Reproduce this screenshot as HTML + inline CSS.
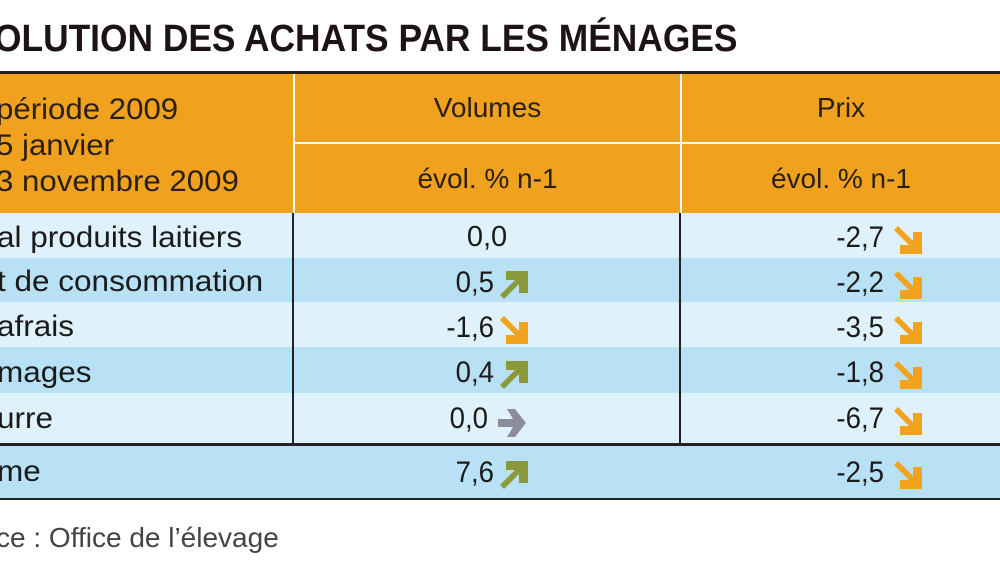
<!DOCTYPE html>
<html><head><meta charset="utf-8"><style>
body{margin:0;width:1000px;height:562px;background:#fff;position:relative;overflow:hidden;font-family:"Liberation Sans",sans-serif;color:#1a1a1a}
.a{position:absolute}
.t{font-size:30px;white-space:nowrap;transform:scaleX(1.05);transform-origin:left}
.h{font-size:28px;white-space:nowrap;color:#2a2018}
.n{font-size:30px;white-space:nowrap;text-align:right;width:100px;transform:scaleX(0.92);transform-origin:right}
</style></head><body>
<div class="a" style="left:-6px;top:18px;font-size:38px;font-weight:bold;white-space:nowrap;color:#1c1414;transform:scaleX(0.93);transform-origin:left">OLUTION DES ACHATS PAR LES MÉNAGES</div>
<div class="a" style="left:0;top:71px;width:1000px;height:3px;background:#2a1a1a"></div>
<div class="a" style="left:0;top:74px;width:1000px;height:139px;background:#f0a21f"></div>
<div class="a" style="left:293px;top:74px;width:2px;height:139px;background:#fff"></div>
<div class="a" style="left:680px;top:74px;width:2px;height:139px;background:#fff"></div>
<div class="a" style="left:295px;top:142px;width:705px;height:2px;background:#fff"></div>
<div class="a h" style="left:-4px;top:92px;line-height:36px;font-size:30px;transform:scaleX(1.04);transform-origin:left">période 2009<br>5 janvier<br>3 novembre 2009</div>
<div class="a h" style="left:295px;width:385px;text-align:center;top:92px">Volumes</div>
<div class="a h" style="left:682px;width:318px;text-align:center;top:92px">Prix</div>
<div class="a h" style="left:295px;width:385px;text-align:center;top:163px">évol. % n-1</div>
<div class="a h" style="left:682px;width:318px;text-align:center;top:163px">évol. % n-1</div>
<div class="a" style="left:0;top:213px;width:1000px;height:45px;background:#dff1fb"></div>
<div class="a" style="left:0;top:258px;width:1000px;height:44px;background:#b8e1f6"></div>
<div class="a" style="left:0;top:302px;width:1000px;height:45px;background:#dff1fb"></div>
<div class="a" style="left:0;top:347px;width:1000px;height:46px;background:#b8e1f6"></div>
<div class="a" style="left:0;top:393px;width:1000px;height:50px;background:#dff1fb"></div>
<div class="a" style="left:0;top:443px;width:1000px;height:3px;background:#222"></div>
<div class="a" style="left:0;top:446px;width:1000px;height:52px;background:#b8e1f6"></div>
<div class="a" style="left:0;top:498px;width:1000px;height:2px;background:#222"></div>
<div class="a" style="left:292px;top:213px;width:2px;height:230px;background:#222"></div>
<div class="a" style="left:679px;top:213px;width:2px;height:230px;background:#222"></div>
<div class="a t" style="left:-3px;top:221px">al produits laitiers</div>
<div class="a t" style="left:-3px;top:265px">t de consommation</div>
<div class="a t" style="left:-3px;top:310px">afrais</div>
<div class="a t" style="left:-3px;top:356px">mages</div>
<div class="a t" style="left:-3px;top:402px">urre</div>
<div class="a t" style="left:-3px;top:455px">me</div>
<svg class="a" style="left:0;top:0" width="1000" height="562">
<defs>
<polygon id="up" points="0,24 15,9 6,9 6,0 28,0 28,22 19,22 19,13 4,28"/>
<polygon id="dn" points="0,4 15,19 6,19 6,28 28,28 28,6 19,6 19,15 4,0"/>
<polygon id="rt" points="0,10 15,10 9,0 17,0 28,14 17,28 9,28 15,18 0,18"/>
</defs>
<use href="#up" x="500" y="271" fill="#8a9a3a"/>
<use href="#dn" x="500" y="316" fill="#f2a31d"/>
<use href="#up" x="500" y="361" fill="#8a9a3a"/>
<use href="#rt" x="498" y="409" fill="#8b8e9a"/>
<use href="#up" x="500" y="461" fill="#8a9a3a"/>
<use href="#dn" x="894" y="226" fill="#f2a31d"/>
<use href="#dn" x="894" y="271" fill="#f2a31d"/>
<use href="#dn" x="894" y="316" fill="#f2a31d"/>
<use href="#dn" x="894" y="361" fill="#f2a31d"/>
<use href="#dn" x="894" y="407" fill="#f2a31d"/>
<use href="#dn" x="894" y="461" fill="#f2a31d"/>
</svg>
<div class="a n" style="left:412px;top:221px;width:150px;text-align:center;transform:none;font-size:29px">0,0</div>
<div class="a n" style="left:394px;top:266px">0,5</div>
<div class="a n" style="left:394px;top:311px">-1,6</div>
<div class="a n" style="left:394px;top:356px">0,4</div>
<div class="a n" style="left:388px;top:402px">0,0</div>
<div class="a n" style="left:394px;top:456px">7,6</div>
<div class="a n" style="left:784px;top:221px">-2,7</div>
<div class="a n" style="left:784px;top:266px">-2,2</div>
<div class="a n" style="left:784px;top:311px">-3,5</div>
<div class="a n" style="left:784px;top:356px">-1,8</div>
<div class="a n" style="left:784px;top:402px">-6,7</div>
<div class="a n" style="left:784px;top:456px">-2,5</div>
<div class="a" style="left:-4px;top:522px;font-size:28px;color:#444;white-space:nowrap">ce : Office de l’élevage</div>
</body></html>
